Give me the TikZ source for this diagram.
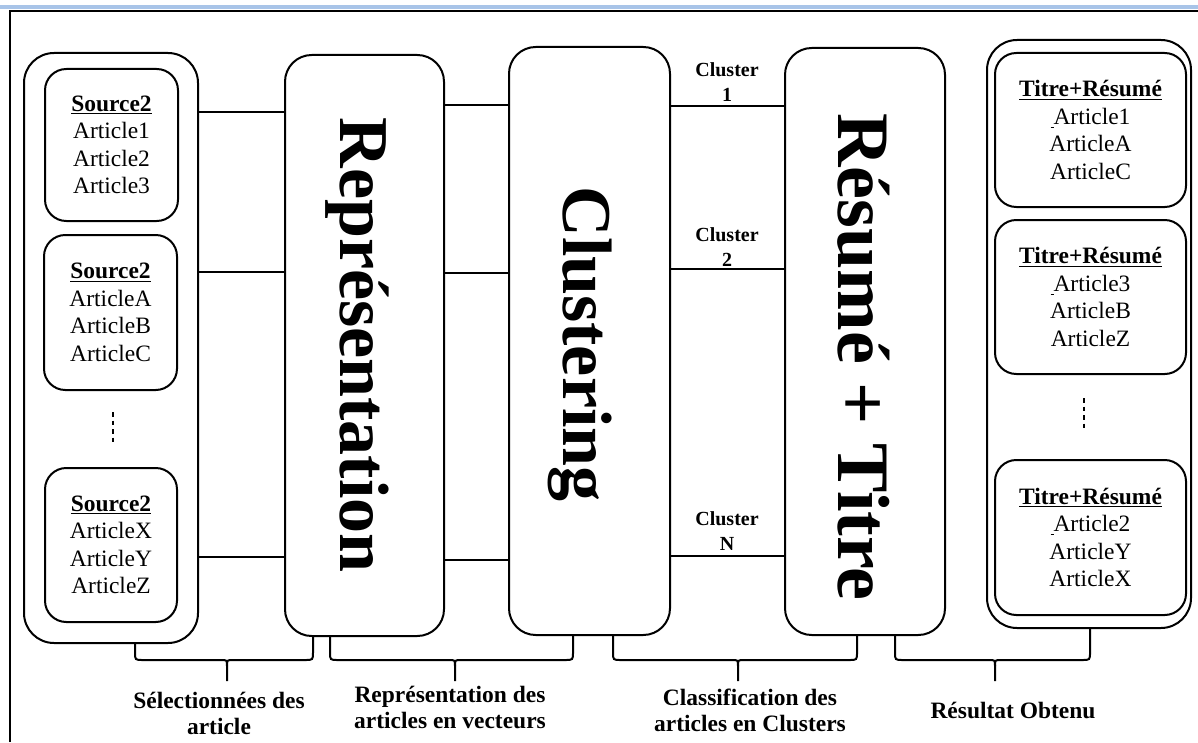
\documentclass[tikz,border=0pt]{standalone}
\usepackage{fontspec}
\setmainfont{Liberation Serif}
\usetikzlibrary{calc}

\newcommand{\txtsmall}{\fontsize{17.6pt}{20.6pt}\selectfont}
\newcommand{\txtlabel}{\bfseries\fontsize{17.6pt}{19.5pt}\selectfont}
\newcommand{\txtcluster}{\bfseries\fontsize{15pt}{18.75pt}\selectfont}
\newcommand{\txtbig}{\bfseries\fontsize{52.5pt}{60pt}\selectfont}
\newcommand{\txtbigr}{\bfseries\fontsize{55.5pt}{60pt}\selectfont}
\newcommand{\tick}{\rule[-2.4pt]{2.2pt}{0.6pt}}

\tikzset{
  sz/.style 2 args={minimum width=#1*0.75pt, minimum height=#2*0.75pt},
  colbox/.style={draw, rounded corners=22.5pt, inner sep=0pt},
  itembox/.style={draw, rounded corners=16pt, inner sep=0pt, align=center, font=\txtsmall},
  stagebox/.style={draw, rounded corners=20pt, inner sep=0pt},
  link/.style={line width=1.5pt},
  dotline/.style={line width=1.6pt, dash pattern=on 3.4pt off 3pt},
  bracestyle/.style={line width=1.5pt},
  clabel/.style={align=center, font=\txtcluster, inner sep=0pt},
  blabel/.style={align=center, font=\txtlabel, inner sep=0pt},
  bigtext/.style={rotate=-90, anchor=base, inner sep=0pt}
}

% under-brace: left x, left top y, tip x, right x, right top y
\newcommand{\ubrace}[5]{%
  \draw[bracestyle] (#1,#2) -- (#1,652) .. controls (#1,660) .. ({#1+8},660)
    -- ({#3-6},660) .. controls (#3,660) .. (#3,666) -- (#3,681);
  \draw[bracestyle] (#3,666) .. controls (#3,660) .. ({#3+6},660)
    -- ({#4-8},660) .. controls (#4,660) .. (#4,652) -- (#4,#5);
}

\begin{document}
\begin{tikzpicture}[x=0.75pt,y=-0.75pt, line width=1.5pt]
\useasboundingbox (0,0) rectangle (1198,742);

% page frame
\draw[line width=2.5pt, color={rgb,255:red,168;green,196;blue,232}] (0,7) -- (1198,7);
\draw[line width=1.9pt] (10,742) -- (10,11) -- (1198,11);

% row heights of the connectors
\coordinate (ra) at (0,112);
\coordinate (rb) at (0,272);
\coordinate (rc) at (0,557);
\coordinate (sa) at (0,105);
\coordinate (sb) at (0,273);
\coordinate (sc) at (0,560);
\coordinate (ta) at (0,106);
\coordinate (tb) at (0,269);
\coordinate (tc) at (0,556);

% left column: sources
\node[colbox, sz={174}{590}] (lout) at (111,348) {};
\node[itembox, sz={133}{152}] (lb1) at (111.5,145)
  {\textbf{\underline{Source2}}\\Article1\\Article2\\Article3};
\node[itembox, sz={133}{155}] (lb2) at (110.5,312.5)
  {\textbf{\underline{Source2}}\\ArticleA\\ArticleB\\ArticleC};
\node[itembox, sz={132}{154}] (lb3) at (111,545)
  {\textbf{\underline{Source2}}\\ArticleX\\ArticleY\\ArticleZ};
\coordinate (ld1) at (113,412);
\coordinate (ld2) at (113,443);
\draw[dotline] (ld1) -- (ld2);

% processing stages
\node[stagebox, sz={159}{581}] (rep) at (364.5,345.5) {};
\node[stagebox, sz={161}{588}] (clu) at (589.5,341) {};
\node[stagebox, sz={160}{587}] (res) at (865,341.5) {};
\node[bigtext, font=\txtbig] (reptxt) at (340,345) {Représentation};
\node[bigtext, font=\txtbig] (clutxt) at (563,344) {Clustering};
\node[bigtext, font=\txtbigr] (restxt) at (838,357) {Résumé + Titre};

% right column: results
\node[colbox, sz={204}{588}] (rout) at (1089,334) {};
\node[itembox, sz={191}{154}] (rb1) at (1090.5,130)
  {\textbf{\underline{Titre+Résumé}}\\\tick Article1\\ArticleA\\ArticleC};
\node[itembox, sz={191}{154}] (rb2) at (1090.5,297)
  {\textbf{\underline{Titre+Résumé}}\\\tick Article3\\ArticleB\\ArticleZ};
\node[itembox, sz={191}{155}] (rb3) at (1090.5,537.5)
  {\textbf{\underline{Titre+Résumé}}\\\tick Article2\\ArticleY\\ArticleX};
\coordinate (rd1) at (1084,398);
\coordinate (rd2) at (1084,428);
\draw[dotline] (rd1) -- (rd2);

% connectors
\draw[link] (lout.east |- ra) -- (rep.west |- ra);
\draw[link] (lout.east |- rb) -- (rep.west |- rb);
\draw[link] (lout.east |- rc) -- (rep.west |- rc);
\draw[link] (rep.east |- sa) -- (clu.west |- sa);
\draw[link] (rep.east |- sb) -- (clu.west |- sb);
\draw[link] (rep.east |- sc) -- (clu.west |- sc);
\draw[link] (clu.east |- ta) -- (res.west |- ta);
\draw[link] (clu.east |- tb) -- (res.west |- tb);
\draw[link] (clu.east |- tc) -- (res.west |- tc);

% cluster labels
\node[clabel] (c1) at (727,82.5) {Cluster\\1};
\node[clabel] (c2) at (727,247) {Cluster\\2};
\node[clabel] (cn) at (727,531.5) {Cluster\\N};

% braces and captions
\ubrace{135}{643}{227}{313}{636}
\ubrace{330}{636}{455}{573}{635}
\ubrace{613}{635}{738}{857}{635}
\ubrace{895}{635}{995}{1090}{628}
\node[blabel] (l1) at (219,713.5) {Sélectionnées des\\article};
\node[blabel] (l2) at (450,707) {Représentation des\\articles en vecteurs};
\node[blabel] (l3) at (750,710) {Classification des\\articles en Clusters};
\node[blabel] (l4) at (1013,710) {Résultat Obtenu};
\end{tikzpicture}
\end{document}
